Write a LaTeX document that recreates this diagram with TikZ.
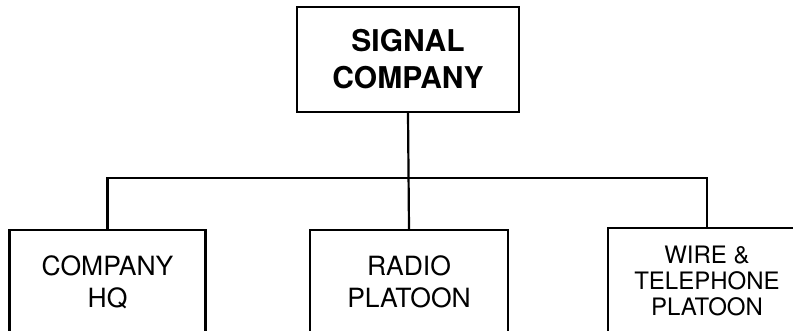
\documentclass[tikz,border=0pt]{standalone}
\usepackage{fontspec}
\setmainfont{TeX Gyre Heros}
\begin{document}
\begin{tikzpicture}[x=1pt,y=-1pt,
  box/.style={draw, line width=2.2pt, inner sep=0pt, align=center, rectangle},
  topbox/.style={box, minimum width=222pt, minimum height=105pt, font=\fontsize{30}{37}\selectfont\bfseries},
  unitbox/.style={box, minimum width=196pt, minimum height=104pt, font=\fontsize{26.5}{32}\selectfont},
  wirebox/.style={box, minimum width=198pt, minimum height=106pt, font=\fontsize{24}{26}\selectfont},
  link/.style={line width=2.2pt}]
\useasboundingbox (0,0) rectangle (793,331);
\clip (0,0) rectangle (793,331);
\node[topbox] (top) at (408,59.5) {SIGNAL\\COMPANY};
\node[unitbox] (hq) at (107.5,282) {COMPANY\\HQ};
\node[unitbox, minimum width=198pt] (radio) at (409,282) {RADIO\\PLATOON};
\node[wirebox] (wire) at (707,281) {WIRE \&\\TELEPHONE\\PLATOON};
\coordinate (bus) at (408,178);
\draw[link] (top.south) -- (radio.north);
\draw[link] (hq.north) -- (hq.north |- bus) -- (wire.north |- bus) -- (wire.north);
\end{tikzpicture}
\end{document}
